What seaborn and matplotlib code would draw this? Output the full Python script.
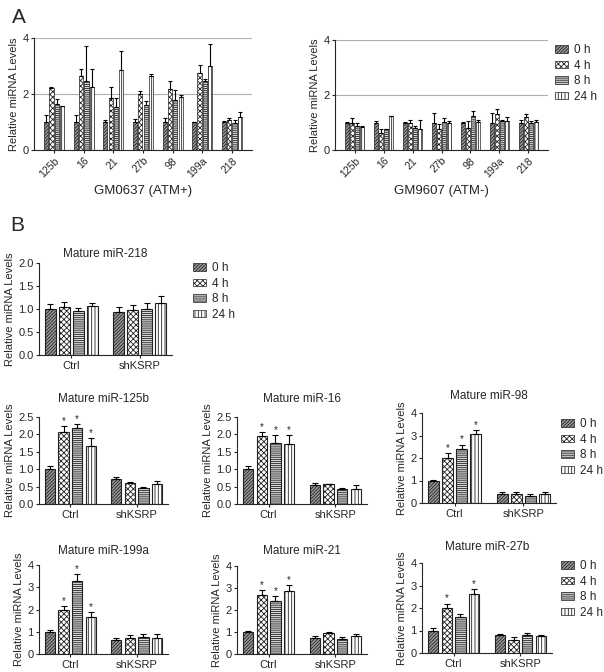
import numpy as np
import pandas as pd
import matplotlib
matplotlib.use("Agg")
import matplotlib.pyplot as plt
from matplotlib.patches import Patch
from matplotlib.container import BarContainer
import seaborn as sns

sns.set_style("ticks")
plt.rcParams["font.family"] = ["Liberation Sans", "DejaVu Sans"]
plt.rcParams["hatch.linewidth"] = 0.6

times = ["0 h", "4 h", "8 h", "24 h"]

# ---------------- Panel A ----------------
mirs_a = ["125b", "16", "21", "27b", "98", "199a", "218"]
# GM0637 (ATM+)
pos_0h = [1.0, 1.0, 1.0, 1.0, 1.0, 1.0, 1.0]
pos_4h = [2.22, 2.65, 1.85, 2.0, 2.18, 2.75, 1.07]
pos_8h = [1.65, 2.45, 1.55, 1.6, 1.8, 2.45, 0.96]
pos_24h = [1.57, 2.25, 2.85, 2.65, 1.88, 3.0, 1.17]
pos_sem_0h = [0.25, 0.25, 0.08, 0.1, 0.13, 0.0, 0.05]
pos_sem_4h = [0.03, 0.25, 0.4, 0.1, 0.27, 0.3, 0.08]
pos_sem_8h = [0.17, 1.25, 0.32, 0.15, 0.35, 0.1, 0.11]
pos_sem_24h = [0.01, 0.63, 0.7, 0.07, 0.1, 0.78, 0.18]
# GM9607 (ATM-)
neg_0h = [1.0, 1.0, 1.0, 1.0, 1.0, 1.0, 1.0]
neg_4h = [0.98, 0.62, 0.97, 0.75, 0.8, 1.3, 1.2]
neg_8h = [0.88, 0.75, 0.8, 1.02, 1.25, 1.07, 0.98]
neg_24h = [0.83, 1.23, 0.75, 0.97, 1.02, 1.05, 1.03]
neg_sem_0h = [0.03, 0.07, 0.03, 0.35, 0.03, 0.35, 0.08]
neg_sem_4h = [0.19, 0.15, 0.13, 0.2, 0.25, 0.18, 0.1]
neg_sem_8h = [0.09, 0.0, 0.07, 0.13, 0.17, 0.03, 0.07]
neg_sem_24h = [0.05, 0.01, 0.35, 0.1, 0.08, 0.15, 0.07]

# ---------------- Panel B ----------------
groups_b = ["Ctrl", "shKSRP"]
m218_ctrl = [1.0, 1.05, 0.95, 1.06]; m218_ctrl_sem = [0.1, 0.1, 0.07, 0.07]
m218_sh = [0.93, 0.97, 0.99, 1.12]; m218_sh_sem = [0.11, 0.11, 0.13, 0.16]
m125b_ctrl = [1.0, 2.06, 2.18, 1.66]; m125b_ctrl_sem = [0.08, 0.17, 0.11, 0.24]
m125b_sh = [0.71, 0.6, 0.46, 0.57]; m125b_sh_sem = [0.07, 0.03, 0.04, 0.1]
m16_ctrl = [1.0, 1.95, 1.75, 1.72]; m16_ctrl_sem = [0.1, 0.13, 0.22, 0.25]
m16_sh = [0.54, 0.57, 0.44, 0.43]; m16_sh_sem = [0.06, 0.01, 0.03, 0.11]
m98_ctrl = [1.0, 2.0, 2.4, 3.05]; m98_ctrl_sem = [0.02, 0.22, 0.2, 0.2]
m98_sh = [0.4, 0.4, 0.3, 0.42]; m98_sh_sem = [0.1, 0.07, 0.12, 0.08]
m199a_ctrl = [1.0, 1.97, 3.28, 1.65]; m199a_ctrl_sem = [0.1, 0.18, 0.3, 0.22]
m199a_sh = [0.65, 0.73, 0.75, 0.73]; m199a_sh_sem = [0.07, 0.12, 0.17, 0.17]
m21_ctrl = [1.0, 2.7, 2.42, 2.85]; m21_ctrl_sem = [0.06, 0.2, 0.2, 0.3]
m21_sh = [0.75, 0.96, 0.7, 0.83]; m21_sh_sem = [0.07, 0.04, 0.08, 0.1]
m27b_ctrl = [1.0, 2.0, 1.6, 2.62]; m27b_ctrl_sem = [0.1, 0.2, 0.15, 0.23]
m27b_sh = [0.8, 0.6, 0.82, 0.77]; m27b_sh_sem = [0.03, 0.12, 0.08, 0.03]
stars_125b = [1, 2, 3]
stars_16 = [1, 2, 3]
stars_98 = [1, 2, 3]
stars_199a = [1, 2, 3]
stars_21 = [1, 2, 3]
stars_27b = [1, 3]

FACE = ["#9a9a9a", "white", "#d8d8d8", "white"]
HATCH = ["//////////", "xxxxxx", "--------", "|||||"]


def long_df(cats, per_time):
    rows = []
    for t, vals in zip(times, per_time):
        for c, v in zip(cats, vals):
            rows.append({"cat": c, "time": t, "val": v})
    return pd.DataFrame(rows)


def draw(ax, cats, per_time, per_sem, width, gap, lw=0.5, cap=1.8, stars=None):
    df = long_df(cats, per_time)
    sns.barplot(data=df, x="cat", y="val", hue="time", order=cats,
                hue_order=times, ax=ax, width=width, gap=gap, legend=False,
                errorbar=None, edgecolor="black", linewidth=lw,
                palette=["#8c8c8c"] * 4)
    bar_conts = [c for c in ax.containers if isinstance(c, BarContainer)]
    for i, cont in enumerate(bar_conts):
        xs, hs = [], []
        for b in cont:
            b.set_facecolor(FACE[i])
            b.set_hatch(HATCH[i])
            b.set_edgecolor("#222222")
            xs.append(b.get_x() + b.get_width() / 2)
            hs.append(b.get_height())
        sem = per_sem[i]
        ax.errorbar(xs, hs, yerr=[np.zeros(len(sem)), sem], fmt="none",
                    ecolor="black", elinewidth=0.8, capsize=cap, capthick=0.8,
                    zorder=1)
        if stars is not None and i in stars:
            ax.text(xs[0], hs[0] + sem[0], "*", ha="center", va="bottom",
                    fontsize=7)
    ax.set_xlabel("")
    ax.set_ylabel("Relative miRNA Levels", fontsize=8, labelpad=2)
    sns.despine(ax=ax)
    ax.tick_params(labelsize=8, length=2.5, width=0.8, pad=1.5)
    for s in ["left", "bottom"]:
        ax.spines[s].set_linewidth(0.8)


def legend_at(fig, x, y, fs=8.5):
    handles = [Patch(facecolor=FACE[i], hatch=HATCH[i], edgecolor="#222222",
                     linewidth=0.5, label=t) for i, t in enumerate(times)]
    fig.legend(handles=handles, loc="upper left", bbox_to_anchor=(x, y),
               frameon=False, fontsize=fs, handlelength=1.1, handleheight=0.6,
               handletextpad=0.5, labelspacing=0.3, borderaxespad=0,
               borderpad=0)


W, H = 604, 672
fig = plt.figure(figsize=(W / 100, H / 100), dpi=100)


def axpx(x0, x1, ytop, ybot):
    return fig.add_axes([x0 / W, 1 - ybot / H, (x1 - x0) / W, (ybot - ytop) / H])


# Panel A
axA1 = axpx(34, 252, 38, 150)
draw(axA1, mirs_a, [pos_0h, pos_4h, pos_8h, pos_24h],
     [pos_sem_0h, pos_sem_4h, pos_sem_8h, pos_sem_24h], 0.72, 0.2, cap=1.2)
axA2 = axpx(335, 548, 40, 150)
draw(axA2, mirs_a, [neg_0h, neg_4h, neg_8h, neg_24h],
     [neg_sem_0h, neg_sem_4h, neg_sem_8h, neg_sem_24h], 0.72, 0.2, cap=1.2)
for ax, lab in [(axA1, "GM0637 (ATM+)"), (axA2, "GM9607 (ATM-)")]:
    ax.set_ylim(0, 4)
    ax.set_yticks([0, 2, 4])
    ax.yaxis.grid(True, color="#b0b0b0", linewidth=0.8)
    ax.set_axisbelow(True)
    ax.tick_params(axis="x", labelsize=7.5)
    ax.set_xlabel(lab, fontsize=9.5, labelpad=4)
    plt.setp(ax.get_xticklabels(), rotation=45, ha="right",
             rotation_mode="anchor")
legend_at(fig, 555 / W, 1 - 44 / H)
fig.text(12 / W, 1 - 8 / H, "A", fontsize=15, va="top")
fig.text(10 / W, 1 - 216 / H, "B", fontsize=15, va="top")

# Panel B
specs = [
    ("Mature miR-218", (39, 172, 263, 355), m218_ctrl, m218_ctrl_sem, m218_sh, m218_sh_sem, None, 2.0, 0.5, 4),
    ("Mature miR-125b", (39, 168, 417, 504), m125b_ctrl, m125b_ctrl_sem, m125b_sh, m125b_sh_sem, stars_125b, 2.5, 0.5, 11),
    ("Mature miR-16", (237, 367, 417, 504), m16_ctrl, m16_ctrl_sem, m16_sh, m16_sh_sem, stars_16, 2.5, 0.5, 11),
    ("Mature miR-98", (422, 556, 413, 503), m98_ctrl, m98_ctrl_sem, m98_sh, m98_sh_sem, stars_98, 4, 1, 10),
    ("Mature miR-199a", (39, 168, 565, 654), m199a_ctrl, m199a_ctrl_sem, m199a_sh, m199a_sh_sem, stars_199a, 4, 1, 8),
    ("Mature miR-21", (237, 367, 566, 654), m21_ctrl, m21_ctrl_sem, m21_sh, m21_sh_sem, stars_21, 4, 1, 9),
    ("Mature miR-27b", (422, 552, 563, 653), m27b_ctrl, m27b_ctrl_sem, m27b_sh, m27b_sh_sem, stars_27b, 4, 1, 9),
]
for title, box, c, cs, s, ss, st, ymax, step, tpad in specs:
    ax = axpx(*box)
    per_time = [[c[i], s[i]] for i in range(4)]
    per_sem = [[cs[i], ss[i]] for i in range(4)]
    draw(ax, groups_b, per_time, per_sem, 0.82, 0.25, lw=0.8, cap=2.5, stars=st)
    ax.set_ylim(0, ymax)
    ticks = np.arange(0, ymax + 1e-9, step)
    ax.set_yticks(ticks)
    if step < 1:
        ax.set_yticklabels([f"{t:.1f}" for t in ticks])
    ax.set_title(title, fontsize=8.5, pad=tpad)

legend_at(fig, 193 / W, 1 - 262 / H)
legend_at(fig, 561 / W, 1 - 418 / H)
legend_at(fig, 561 / W, 1 - 560 / H)

fig.savefig("out.png", dpi=100)
